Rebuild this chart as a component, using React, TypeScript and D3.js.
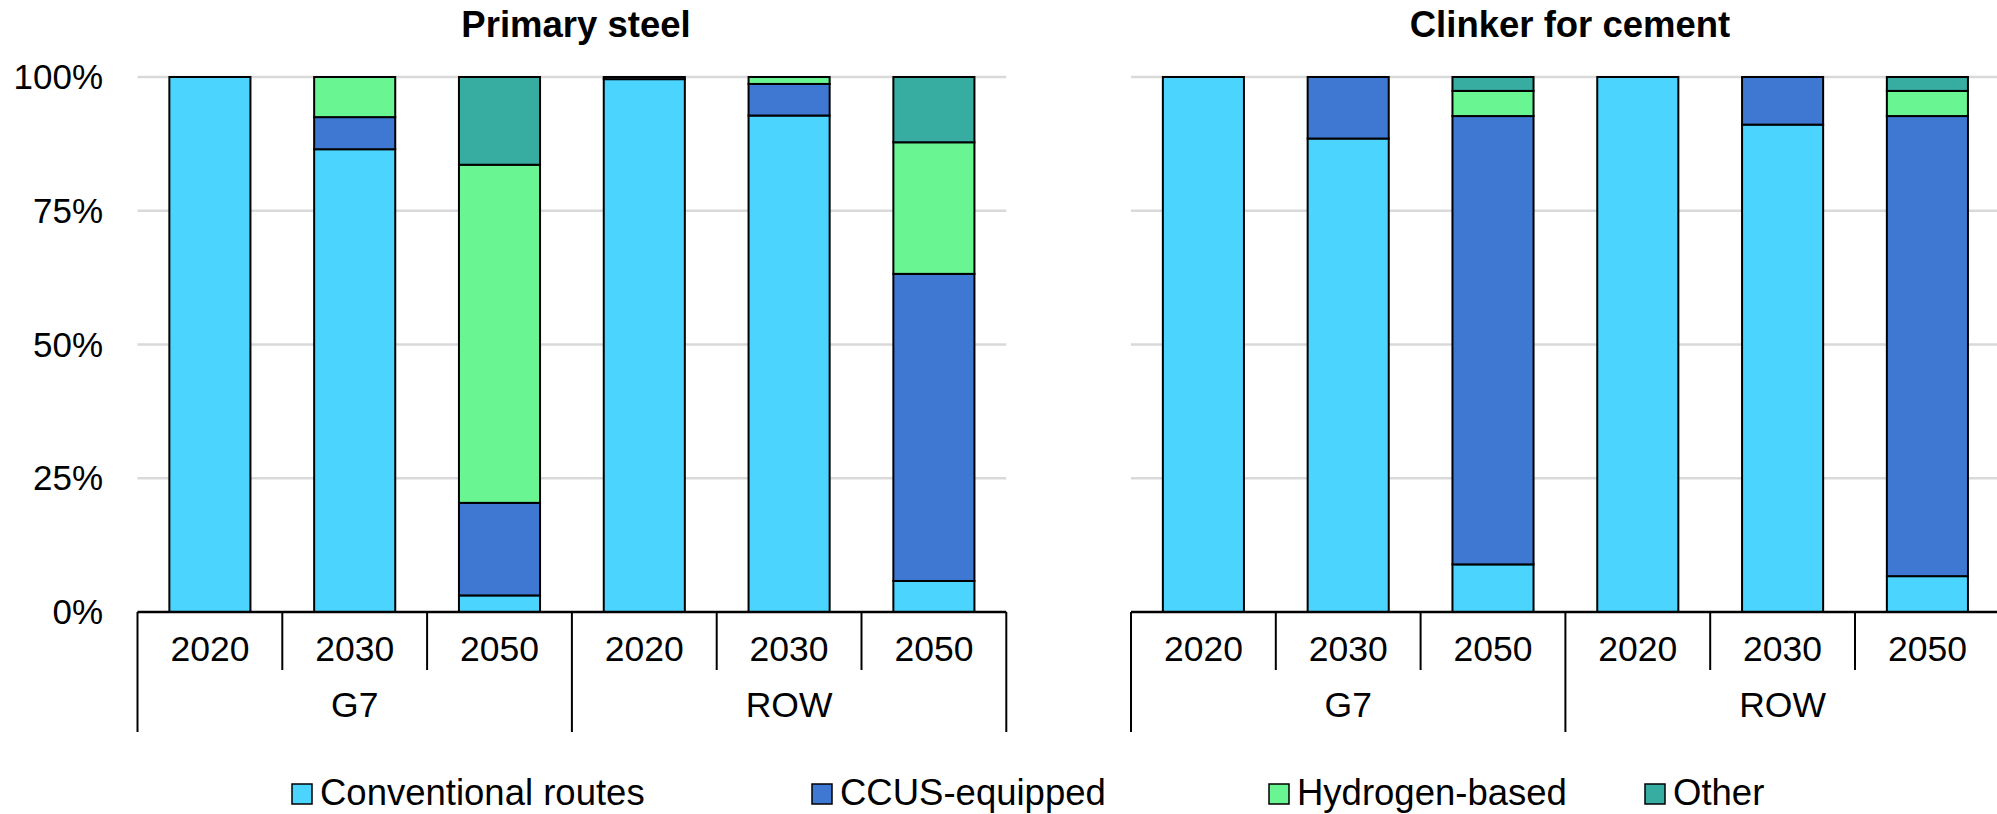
import React from "react";
import * as d3 from "d3";

// Categories along the x axis (year within region group)
const years = ["2020", "2030", "2050", "2020", "2030", "2050"];
const regions = ["G7", "ROW"];
const seriesNames = ["Conventional routes", "CCUS-equipped", "Hydrogen-based", "Other"];
const seriesColors = ["#4AD4FE", "#3F78D3", "#69F591", "#37ADA2"];
const yTicks = [0, 25, 50, 75, 100];

// Primary steel production shares (%)
const steelConventional = [100, 86.5, 3.1, 99.6, 92.8, 5.8];
const steelCCUS = [0, 6.0, 17.3, 0.4, 5.9, 57.4];
const steelHydrogen = [0, 7.5, 63.2, 0, 1.3, 24.6];
const steelOther = [0, 0, 16.4, 0, 0, 12.2];

// Clinker for cement production shares (%)
const cementConventional = [100, 88.5, 8.9, 100, 91.1, 6.7];
const cementCCUS = [0, 11.5, 83.8, 0, 8.9, 86.0];
const cementHydrogen = [0, 0, 4.7, 0, 0, 4.7];
const cementOther = [0, 0, 2.6, 0, 0, 2.6];

const FONT = "'Liberation Sans', Arial, sans-serif";
const Y0 = 612;
const Y100 = 77;
const STEP = 144.8;

const y = d3.scaleLinear().domain([0, 100]).range([Y0, Y100]);

type PanelProps = {
  title: string;
  titleX: number;
  x0: number;
  series: number[][];
};

function Panel({ title, titleX, x0, series }: PanelProps) {
  const idx = years.map((_, i) => i);
  const x = d3
    .scaleBand<number>()
    .domain(idx)
    .range([x0, x0 + STEP * years.length])
    .paddingInner(0.44)
    .paddingOuter(0.22);
  const rows = idx.map((i) => {
    const r: Record<string, number> = { i };
    seriesNames.forEach((name, s) => (r[name] = series[s][i]));
    return r;
  });
  const stacked = d3.stack<Record<string, number>>().keys(seriesNames)(rows);
  const x1 = x0 + STEP * years.length;
  return (
    <g>
      <text
        x={titleX}
        y={37}
        textAnchor="middle"
        fontFamily={FONT}
        fontWeight="bold"
        fontSize={36.5}
      >
        {title}
      </text>
      {yTicks
        .filter((t) => t > 0)
        .map((t) => (
          <line key={t} x1={x0} x2={x1} y1={y(t)} y2={y(t)} stroke="#d9d9d9" strokeWidth={2.5} />
        ))}
      {stacked.map((layer, s) => (
        <g key={layer.key} fill={seriesColors[s]}>
          {layer.map((d, i) =>
            d[1] - d[0] > 0 ? (
              <rect
                key={i}
                x={x(i)}
                width={x.bandwidth()}
                y={y(d[1])}
                height={y(d[0]) - y(d[1])}
                stroke="#000"
                strokeWidth={2}
              />
            ) : null
          )}
        </g>
      ))}
      <line x1={x0} x2={x1} y1={Y0} y2={Y0} stroke="#000" strokeWidth={2.5} />
      {d3.range(years.length + 1).map((k) => {
        const xx = x0 + k * STEP;
        const major = k % 3 === 0;
        return (
          <line key={k} x1={xx} x2={xx} y1={Y0} y2={major ? 732 : 670} stroke="#000" strokeWidth={2} />
        );
      })}
      {years.map((yr, i) => (
        <text
          key={i}
          x={(x(i) as number) + x.bandwidth() / 2}
          y={661}
          textAnchor="middle"
          fontFamily={FONT}
          fontSize={35.5}
        >
          {yr}
        </text>
      ))}
      {regions.map((r, g) => (
        <text
          key={r}
          x={x0 + STEP * (g * 3 + 1.5)}
          y={717}
          textAnchor="middle"
          fontFamily={FONT}
          fontSize={35.5}
        >
          {r}
        </text>
      ))}
    </g>
  );
}

const legendX = [292, 812, 1269, 1645];

export default function App() {
  return (
    <svg
      width={1997}
      height={814}
      style={{ position: "absolute", left: 0, top: 0, background: "#fff" }}
    >
      {yTicks.map((t) => (
        <text
          key={t}
          x={103}
          y={y(t) + 12}
          textAnchor="end"
          fontFamily={FONT}
          fontSize={35}
        >
          {t}%
        </text>
      ))}
      <Panel
        title="Primary steel"
        titleX={576}
        x0={137.5}
        series={[steelConventional, steelCCUS, steelHydrogen, steelOther]}
      />
      <Panel
        title="Clinker for cement"
        titleX={1570}
        x0={1131}
        series={[cementConventional, cementCCUS, cementHydrogen, cementOther]}
      />
      {seriesNames.map((name, s) => (
        <g key={name}>
          <rect
            x={legendX[s]}
            y={784}
            width={20}
            height={20}
            fill={seriesColors[s]}
            stroke="#000"
            strokeWidth={1.5}
          />
          <text x={legendX[s] + 28} y={805} fontFamily={FONT} fontSize={36.5}>
            {name}
          </text>
        </g>
      ))}
    </svg>
  );
}
